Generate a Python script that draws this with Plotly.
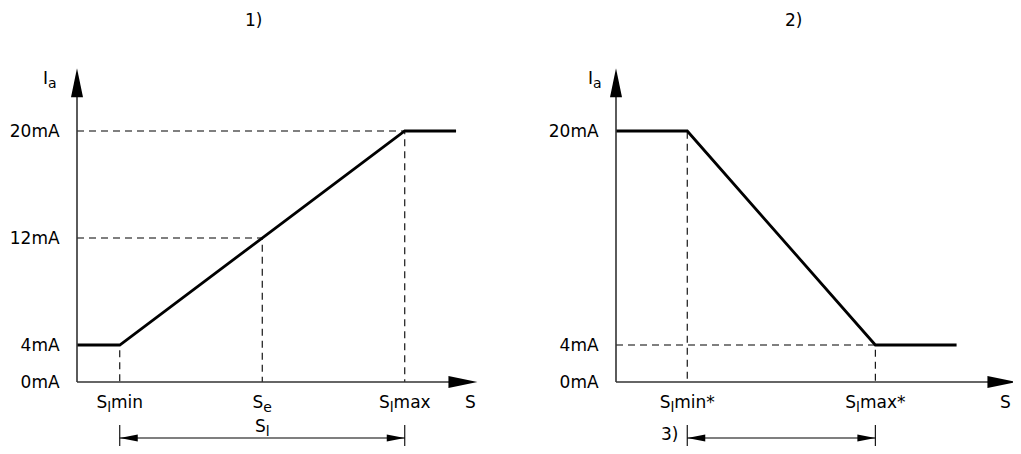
import plotly.graph_objects as go

# current output levels (mA); the axis is broken below 4 mA, "0mA" sits at ma_base
ma_base = 1.23
ma_top = 24.7
ma_ticks = [20, 12, 4, ma_base]
ma_labels = ["20mA", "12mA", "4mA", "0mA"]


def sub(t):
    return f"<sub><span style='font-size:14px'>{t}</span></sub>"


# 1) rising characteristic
s1_ticks = [0.30, 1.30, 2.30]
s1_labels = ["S" + sub("l") + "min", "S" + sub("e"), "S" + sub("l") + "max"]
s1_levels = [4, 12, 20]
s1_curve_x = [0, 0.30, 2.30, 2.66]
s1_curve_y = [4, 4, 20, 20]

# 2) falling characteristic
s2_ticks = [0.50, 1.82]
s2_labels = ["S" + sub("l") + "min*", "S" + sub("l") + "max*"]
s2_levels = [20, 4]
s2_curve_x = [0, 0.50, 1.82, 2.39]
s2_curve_y = [20, 20, 4, 4]

s_tip = 2.81      # end of the S axis arrow
dim_y = -2.95     # level of the measuring (dimension) line

# page body has an 8px margin; keep the figure inside the window so no scrollbar appears
PAD = 8
W, H = 1021 - PAD, 454 - 2 * PAD

# arrow head sizes, converted from pixels to axis units
PX_X = 1 / 142.5
PX_Y = 1 / 13.375

FONT = dict(family="DejaVu Sans, Liberation Sans, Arial, sans-serif", size=17, color="black")


def px(x):
    return (x - PAD) / W


def py(y):
    return 1 - (y - PAD) / H


def guides(ticks, levels):
    xs, ys = [], []
    for s, lvl in zip(ticks, levels):
        xs += [0, s, s, None]
        ys += [lvl, lvl, ma_base, None]
    return xs, ys


def path(points):
    return "M " + " L ".join(f"{x},{y}" for x, y in points) + " Z"


def panel_shapes(xref, yref, d0, d1):
    line_axis = dict(color="#333333", width=1.6)
    thin = dict(color="black", width=1.1)
    head = dict(type="path", xref=xref, yref=yref, fillcolor="black", line=dict(width=0))
    shp = [
        # axes
        dict(type="line", xref=xref, yref=yref, x0=0, y0=ma_base, x1=0, y1=ma_top - 1, line=line_axis),
        dict(type="line", xref=xref, yref=yref, x0=0, y0=ma_base, x1=s_tip - 0.1, y1=ma_base, line=line_axis),
        dict(head, path=path([(0, ma_top), (-6 * PX_X, ma_top - 29 * PX_Y), (6 * PX_X, ma_top - 29 * PX_Y)])),
        dict(head, path=path([(s_tip, ma_base), (s_tip - 29 * PX_X, ma_base + 6 * PX_Y),
                              (s_tip - 29 * PX_X, ma_base - 6 * PX_Y)])),
        # measuring line with extension ticks
        dict(type="line", xref=xref, yref=yref, x0=d0, y0=dim_y, x1=d1, y1=dim_y, line=thin),
        dict(type="line", xref=xref, yref=yref, x0=d0, y0=dim_y + 13 * PX_Y, x1=d0, y1=dim_y - 8 * PX_Y, line=thin),
        dict(type="line", xref=xref, yref=yref, x0=d1, y0=dim_y + 13 * PX_Y, x1=d1, y1=dim_y - 8 * PX_Y, line=thin),
        dict(head, path=path([(d0, dim_y), (d0 + 18 * PX_X, dim_y + 3.5 * PX_Y), (d0 + 18 * PX_X, dim_y - 3.5 * PX_Y)])),
        dict(head, path=path([(d1, dim_y), (d1 - 18 * PX_X, dim_y + 3.5 * PX_Y), (d1 - 18 * PX_X, dim_y - 3.5 * PX_Y)])),
    ]
    return shp


fig = go.Figure()

gx, gy = guides(s1_ticks, s1_levels)
fig.add_trace(go.Scatter(x=gx, y=gy, mode="lines", xaxis="x", yaxis="y",
                         line=dict(color="black", width=1.1, dash="7px,5px")))
fig.add_trace(go.Scatter(x=s1_curve_x, y=s1_curve_y, mode="lines", xaxis="x", yaxis="y",
                         line=dict(color="black", width=2.8)))

gx, gy = guides(s2_ticks, s2_levels)
fig.add_trace(go.Scatter(x=gx, y=gy, mode="lines", xaxis="x2", yaxis="y2",
                         line=dict(color="black", width=1.1, dash="7px,5px")))
fig.add_trace(go.Scatter(x=s2_curve_x, y=s2_curve_y, mode="lines", xaxis="x2", yaxis="y2",
                         line=dict(color="black", width=2.8)))

xcommon = dict(showgrid=False, zeroline=False, showline=False, anchor="free", position=py(382),
               automargin=False, ticks="outside", ticklen=5, tickcolor="rgba(0,0,0,0)",
               tickfont=FONT, fixedrange=True)
ycommon = dict(showgrid=False, zeroline=False, showline=False, domain=[0, 1],
               range=[4 - (PAD + H - 345) * PX_Y, 4 + (345 - PAD) * PX_Y],
               automargin=False, ticks="outside", ticklen=3, tickcolor="rgba(0,0,0,0)",
               tickfont=FONT, fixedrange=True)

fig.update_layout(
    width=W, height=H,
    margin=dict(l=0, r=0, t=0, b=0, autoexpand=False),
    paper_bgcolor="white", plot_bgcolor="white",
    showlegend=False,
    font=FONT,
    xaxis=dict(xcommon, domain=[px(67), px(500)], range=[-10 * PX_X, 423 * PX_X],
               tickvals=s1_ticks, ticktext=s1_labels),
    xaxis2=dict(xcommon, domain=[px(606), 1], range=[-10 * PX_X, 405 * PX_X],
                tickvals=s2_ticks, ticktext=s2_labels),
    yaxis=dict(ycommon, anchor="x", tickvals=ma_ticks, ticktext=ma_labels),
    yaxis2=dict(ycommon, anchor="x2", tickvals=ma_ticks[:1] + ma_ticks[2:],
                ticktext=ma_labels[:1] + ma_labels[2:]),
    shapes=panel_shapes("x", "y", s1_ticks[0], s1_ticks[-1])
    + panel_shapes("x2", "y2", s2_ticks[0], s2_ticks[-1]),
)

annotations = [
    dict(text="1)", x=px(253), y=py(20), xref="paper", yref="paper"),
    dict(text="2)", x=px(793), y=py(20), xref="paper", yref="paper"),
    dict(text="I" + sub("a"), x=px(50), y=py(79), xref="paper", yref="paper"),
    dict(text="I" + sub("a"), x=px(595), y=py(79), xref="paper", yref="paper"),
    dict(text="S", x=px(470), y=py(402), xref="paper", yref="paper"),
    dict(text="S", x=px(1005), y=py(402), xref="paper", yref="paper"),
    dict(text="S" + sub("l"), x=s1_ticks[1], y=dim_y + 0.75, xref="x", yref="y"),
    dict(text="3)", x=s2_ticks[0], y=dim_y + 0.3, xref="x2", yref="y2", xanchor="right", xshift=-7),
]
for a in annotations:
    a.update(showarrow=False, font=FONT, yanchor="middle")
    a.setdefault("xanchor", "center")
fig.update_layout(annotations=annotations)

fig.write_html("out.html")
